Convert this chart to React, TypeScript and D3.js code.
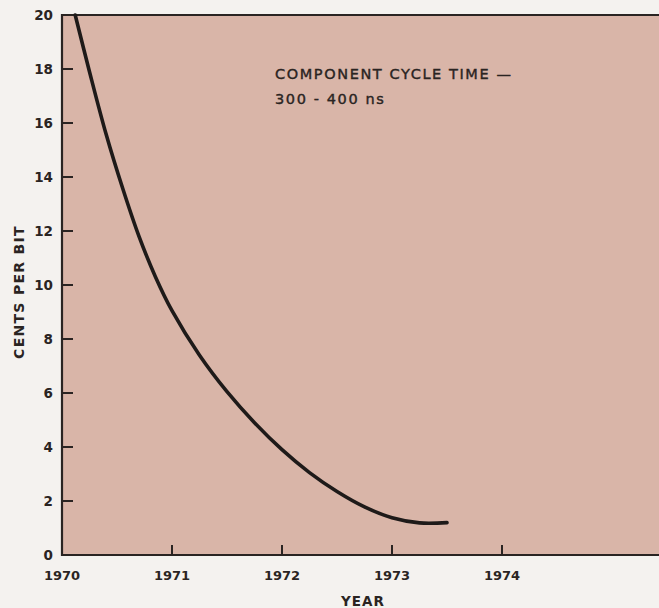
import React from "react";
import * as d3 from "d3";

const years = [1970.12, 1970.25, 1970.4, 1970.55, 1970.7, 1970.85, 1971.0, 1971.25, 1971.5, 1971.75, 1972.0, 1972.25, 1972.5, 1972.75, 1973.0, 1973.25, 1973.5];
const centsPerBit = [20, 17.9, 15.6, 13.6, 11.8, 10.3, 9.05, 7.4, 6.05, 4.9, 3.9, 3.05, 2.35, 1.78, 1.38, 1.19, 1.2];
const xTicks = [1970, 1971, 1972, 1973, 1974];
const yTicks = [0, 2, 4, 6, 8, 10, 12, 14, 16, 18, 20];
const noteLines = ["COMPONENT CYCLE TIME —", "300 - 400 ns"];

const W = 659, H = 608;
const left = 62, top = 15, bottom = 555;

export default function App() {
  const x = d3.scaleLinear().domain([1970, 1971]).range([left, left + 110]);
  const y = d3.scaleLinear().domain([0, 20]).range([bottom, top]);
  const line = d3.line<number>()
    .x((_, i) => x(years[i]))
    .y((d) => y(d))
    .curve(d3.curveCatmullRom.alpha(0.5));
  const font = "'DejaVu Sans', Verdana, sans-serif";
  const ink = "#2a2422";
  return (
    <svg width={W} height={H} style={{ position: "absolute", left: 0, top: 0, display: "block" }}>
      <rect x={0} y={0} width={W} height={H} fill="#f4f2ef" />
      <rect x={left} y={top} width={W - left} height={bottom - top} fill="#d9b5a8" />
      <line x1={left} x2={W} y1={top} y2={top} stroke={ink} strokeWidth={2.2} />
      <line x1={left} x2={W} y1={bottom} y2={bottom} stroke={ink} strokeWidth={2.2} />
      <line x1={left} x2={left} y1={top - 1} y2={bottom + 1} stroke={ink} strokeWidth={2.2} />
      {yTicks.map((t) => (
        <g key={"y" + t}>
          {t > 0 && t < 20 && <line x1={left} x2={left + 11} y1={y(t)} y2={y(t)} stroke={ink} strokeWidth={2} />}
          <text x={53} y={y(t)} dy="0.36em" textAnchor="end" fontFamily={font} fontSize={13.5} fontWeight="bold" fill={ink}>{t}</text>
        </g>
      ))}
      {xTicks.map((t) => (
        <g key={"x" + t}>
          {t > 1970 && <line x1={x(t)} x2={x(t)} y1={bottom} y2={bottom - 10} stroke={ink} strokeWidth={2} />}
          <text x={x(t)} y={580} textAnchor="middle" fontFamily={font} fontSize={13} fontWeight="bold" fill={ink}>{t}</text>
        </g>
      ))}
      <text x={363} y={606} textAnchor="middle" fontFamily={font} fontSize={13.5} fontWeight="bold" letterSpacing={1} fill={ink}>YEAR</text>
      <text transform="translate(24,292) rotate(-90)" textAnchor="middle" fontFamily={font} fontSize={14} fontWeight="bold" letterSpacing={1.3} fill={ink}>CENTS PER BIT</text>
      {noteLines.map((s, i) => (
        <text key={s} x={275} y={79 + i * 25} fontFamily={font} fontSize={14.5} fill={ink} stroke={ink} strokeWidth={0.4} letterSpacing={1.6}>{s}</text>
      ))}
      <path d={line(centsPerBit) || ""} fill="none" stroke="#1e1a19" strokeWidth={3.6} strokeLinecap="round" />
    </svg>
  );
}
